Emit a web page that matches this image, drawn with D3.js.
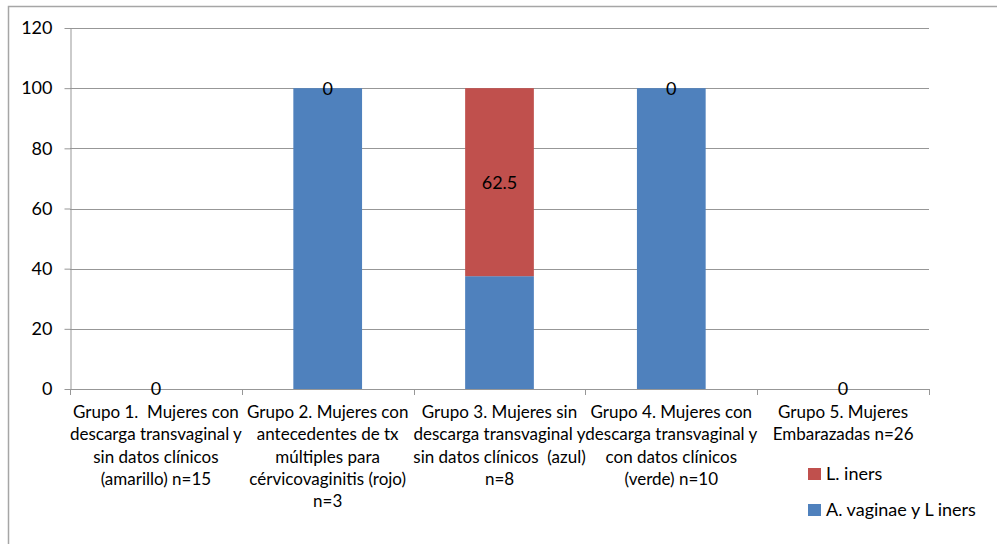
<!DOCTYPE html>
<html>
<head>
<meta charset="utf-8">
<script src="https://cdn.jsdelivr.net/npm/d3@7"></script>
<style>
  html, body { margin: 0; padding: 0; background: #fff; }
  svg { display: block; font-family: Lato, "Open Sans", sans-serif; }
  text { white-space: pre; }
</style>
</head>
<body>
<svg id="chart" width="997" height="544"></svg>
<script>
// Category labels (one entry per line of the wrapped label)
const categories = [
  ["Grupo 1.  Mujeres con", "descarga transvaginal y", "sin datos clínicos", "(amarillo) n=15"],
  ["Grupo 2. Mujeres con", "antecedentes de tx", "múltiples para", "cérvicovaginitis (rojo)", "n=3"],
  ["Grupo 3. Mujeres sin", "descarga transvaginal y", "sin datos clínicos  (azul)", "n=8"],
  ["Grupo 4. Mujeres con", "descarga transvaginal y", "con datos clínicos", "(verde) n=10"],
  ["Grupo 5. Mujeres", "Embarazadas n=26"]
];
const seriesNames = ["A. vaginae y L iners", "L. iners"];
const aVaginaeLIners = [0, 100, 37.5, 100, 0];
const lIners = [0, 0, 62.5, 0, 0];
const yTicks = [0, 20, 40, 60, 80, 100, 120];
const colors = ["#4F81BD", "#C0504D"];

const svg = d3.select("#chart");

// outer frame
svg.append("rect")
  .attr("x", 8.5).attr("y", 6.5)
  .attr("width", 1000).attr("height", 560)
  .attr("fill", "none").attr("stroke", "#a6a6a6").attr("stroke-width", 1.5);

const plotLeft = 70, plotRight = 929, plotTop = 28, plotBottom = 389;
const keys = categories.map((c, i) => "g" + i);
const rows = keys.map((k, i) => ({ key: k, s0: aVaginaeLIners[i], s1: lIners[i] }));

const x = d3.scaleBand().domain(keys).range([plotLeft, plotRight]).padding(0);
const y = d3.scaleLinear().domain([0, 120]).range([plotBottom, plotTop]);

// gridlines
svg.append("g").selectAll("line")
  .data(yTicks.filter(t => t > 0))
  .join("line")
  .attr("x1", plotLeft).attr("x2", plotRight)
  .attr("y1", d => Math.round(y(d)) + 0.5).attr("y2", d => Math.round(y(d)) + 0.5)
  .attr("stroke", "#979797").attr("stroke-width", 1);

// y axis
const yAxis = svg.append("g")
  .attr("transform", `translate(${plotLeft + 0.5},0)`)
  .call(d3.axisLeft(y).tickValues(yTicks).tickSize(6).tickPadding(12).tickSizeOuter(0));
yAxis.select(".domain").attr("stroke", "#979797");
yAxis.selectAll(".tick line").attr("stroke", "#979797");
yAxis.selectAll(".tick text")
  .attr("font-size", 18).attr("fill", "#000")
  .attr("font-family", "Lato, sans-serif");

// stacked bars
const stack = d3.stack().keys(["s0", "s1"]);
const stacked = stack(rows);
const barW = x.bandwidth() * 0.4;

svg.append("g").selectAll("g")
  .data(stacked)
  .join("g")
  .attr("fill", (d, i) => colors[i])
  .selectAll("rect")
  .data(d => d)
  .join("rect")
  .attr("x", d => x(d.data.key) + (x.bandwidth() - barW) / 2)
  .attr("width", barW)
  .attr("y", d => y(d[1]))
  .attr("height", d => y(d[0]) - y(d[1]));

// x axis line and category dividers
const xg = svg.append("g");
xg.append("line")
  .attr("x1", plotLeft).attr("x2", plotRight)
  .attr("y1", plotBottom + 0.5).attr("y2", plotBottom + 0.5)
  .attr("stroke", "#979797");
const bounds = keys.map(k => x(k)).concat([plotRight]);
xg.selectAll("line.tick")
  .data(bounds)
  .join("line")
  .attr("class", "tick")
  .attr("x1", d => Math.round(d) + 0.5).attr("x2", d => Math.round(d) + 0.5)
  .attr("y1", plotBottom).attr("y2", plotBottom + 6)
  .attr("stroke", "#979797");

// data labels for the L. iners series
svg.append("g").selectAll("text")
  .data(stacked[1])
  .join("text")
  .attr("x", d => x(d.data.key) + x.bandwidth() / 2)
  .attr("y", d => (y(d[0]) + y(d[1])) / 2)
  .attr("dy", "0.36em")
  .attr("text-anchor", "middle")
  .attr("font-size", 18)
  .attr("fill", "#000")
  .text(d => d3.format("")(d[1] - d[0]));

// category labels
svg.append("g").selectAll("text")
  .data(categories.map((c, i) => ({ lines: c, key: keys[i] })))
  .join("text")
  .attr("text-anchor", "middle")
  .attr("font-size", 17)
  .attr("fill", "#000")
  .each(function (d) {
    const t = d3.select(this);
    d.lines.forEach((ln, j) => {
      t.append("tspan")
        .attr("x", x(d.key) + x.bandwidth() / 2)
        .attr("y", 418 + j * 22.3)
        .text(ln);
    });
  });

// legend (L. iners listed first)
const legendItems = [1, 0];
const lg = svg.append("g");
legendItems.forEach((si, j) => {
  const yy = 468 + j * 36;
  lg.append("rect").attr("x", 808).attr("y", yy).attr("width", 13).attr("height", 12).attr("fill", colors[si]);
  lg.append("text").attr("x", 826).attr("y", yy + 12).attr("font-size", 18).attr("fill", "#000").text(seriesNames[si]);
});
</script>
</body>
</html>
